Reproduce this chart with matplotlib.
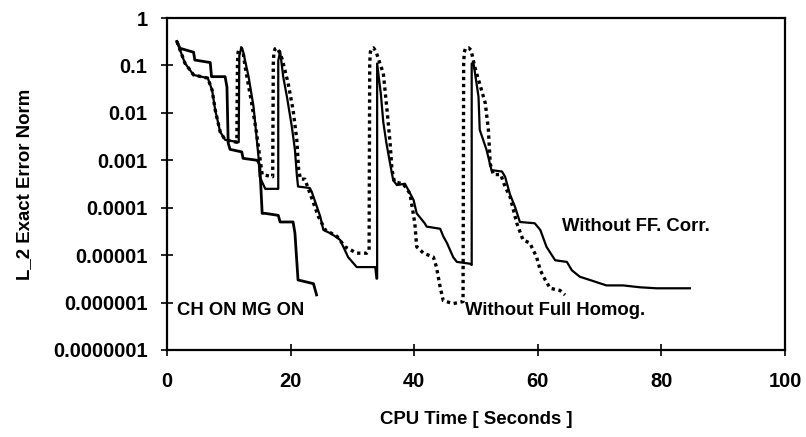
import matplotlib
matplotlib.use("Agg")
import matplotlib.pyplot as plt

plt.rcParams['font.family'] = ['Liberation Sans', 'DejaVu Sans']
plt.rcParams['font.weight'] = 'bold'

# CH ON MG ON (solid)
ch_x = [1.6, 2.1, 4.3, 4.5, 7.0, 7.2, 9.4, 9.7, 9.9, 10.2, 12.1, 12.3, 14.6, 15.0,
        15.2, 15.4, 15.9, 18.0, 18.3, 20.4, 20.7, 21.2, 23.7, 24.2]
ch_y = [0.32, 0.23, 0.19, 0.13, 0.115, 0.058, 0.058, 0.035, 0.0023, 0.0017, 0.0015,
        0.0011, 0.001, 0.0008, 0.00025, 7.6e-5, 7.6e-5, 6.9e-5, 5.0e-5, 5.0e-5,
        2.9e-5, 3.0e-6, 2.5e-6, 1.45e-6]

# Without Full Homog. (dotted)
fh_x = [1.6, 2.9, 4.3, 6.6, 7.3, 7.8, 8.6, 9.4, 11.3,
        11.4, 11.5, 11.7, 12.0, 12.3, 12.6, 13.7, 14.5, 15.0, 15.4, 17.1,
        17.2, 17.3, 17.5, 17.8, 18.1, 18.6, 19.6, 20.4, 21.0, 21.3, 21.6, 22.3, 24.5,
        25.6, 27.5, 28.8, 30.7, 32.3, 32.7,
        32.8, 32.9, 33.1, 33.4, 33.8, 34.3, 35.0, 35.6, 36.1, 36.4, 36.8, 38.2, 39.3,
        40.1, 40.4, 41.5, 43.1, 43.6, 44.2, 44.7, 46.3, 47.9,
        48.0, 48.1, 48.3, 48.8, 49.2, 49.8, 51.5, 52.0, 52.3, 52.8, 54.0, 54.7, 55.5,
        56.6, 57.6, 58.7, 59.8, 60.4, 61.2, 62.0, 63.6, 64.4]
fh_y = [0.32, 0.112, 0.063, 0.054, 0.030, 0.0115, 0.004, 0.0027, 0.0024,
        0.11, 0.19, 0.225, 0.235, 0.2, 0.1, 0.016, 0.0037, 0.0012, 0.0005, 0.00045,
        0.11, 0.19, 0.225, 0.235, 0.2, 0.14, 0.042, 0.0115, 0.0027, 0.00063, 0.0004,
        0.0004, 6.5e-5, 3.4e-5, 2.5e-5, 1.5e-5, 1.1e-5, 1.1e-5, 1.25e-5,
        0.11, 0.19, 0.225, 0.235, 0.2, 0.126, 0.068, 0.0115, 0.0023, 0.00063, 0.00035,
        0.00032, 0.0002, 4.7e-5, 1.5e-5, 1.1e-5, 9.1e-6, 5.6e-6, 2.1e-6, 1.1e-6, 9.5e-7,
        1.05e-6,
        0.11, 0.19, 0.23, 0.235, 0.21, 0.093, 0.016, 0.0044, 0.00085, 0.0005, 0.0005,
        0.00028, 0.00017, 4.7e-5, 2.1e-5, 1.8e-5, 9.1e-6, 4.8e-6, 3.0e-6, 2.0e-6,
        1.8e-6, 1.45e-6]

# Without FF. Corr. (thin solid)
ff_x = [1.6, 2.9, 4.3, 6.6, 7.3, 7.8, 8.6, 9.4, 11.6,
        11.7, 12.0, 12.3, 13.2, 14.0, 14.8, 15.0, 15.9, 18.0,
        18.0, 18.3, 18.8, 19.4, 20.2, 20.7, 21.0, 21.2, 23.1, 23.4, 24.8, 25.3, 26.4,
        27.2, 28.0, 29.3, 30.7, 33.7, 33.9, 34.0,
        34.0, 34.6, 35.0, 35.5, 36.1, 36.6, 37.2, 38.5, 39.9, 40.4, 41.7, 42.0, 44.2,
        44.7, 45.3, 46.3, 46.9, 49.0, 49.3,
        49.3, 49.6, 50.4, 50.6, 51.7, 52.5, 54.2, 54.7, 55.5, 56.3, 57.1, 59.5, 60.4,
        61.4, 62.8, 64.7, 65.5, 66.8, 68.4, 71.1, 73.8, 76.5, 79.2, 81.9, 84.6]
ff_y = [0.32, 0.112, 0.063, 0.054, 0.030, 0.0115, 0.004, 0.0027, 0.0024,
        0.16, 0.23, 0.2, 0.058, 0.0135, 0.0012, 0.00045, 0.00025, 0.00025,
        0.126, 0.2, 0.058, 0.022, 0.0051, 0.00166, 0.0005, 0.00028, 0.00026, 0.00022,
        6.5e-5, 3.4e-5, 2.9e-5, 2.5e-5, 2.1e-5, 9.1e-6, 5.6e-6, 5.6e-6, 3.2e-6, 3.2e-6,
        0.11, 0.025, 0.0063, 0.0023, 0.00085, 0.00038, 0.0003, 0.00032, 0.000145, 7.6e-5,
        4.7e-5, 4.0e-5, 3.6e-5, 2.5e-5, 1.8e-5, 9.1e-6, 7.2e-6, 6.6e-6, 6.2e-6,
        0.11, 0.11, 0.022, 0.0044, 0.00166, 0.00062, 0.00058, 0.00045, 0.00019, 0.000105,
        5.0e-5, 4.7e-5, 3.4e-5, 1.5e-5, 7.8e-6, 7.2e-6, 4.8e-6, 3.5e-6, 3.0e-6, 2.3e-6,
        2.3e-6, 2.1e-6, 2.0e-6, 2.0e-6, 2.0e-6]

y_ticks = [1, 0.1, 0.01, 0.001, 0.0001, 0.00001, 0.000001, 0.0000001]
y_labels = ['1', '0.1', '0.01', '0.001', '0.0001', '0.00001', '0.000001', '0.0000001']
x_ticks = [0, 20, 40, 60, 80, 100]

fig = plt.figure(figsize=(8.06, 4.37), dpi=100)
ax = fig.add_axes([0.2072, 0.1991, 0.7668, 0.7597])

ax.plot(fh_x, fh_y, color='black', lw=2.4, linestyle=(0, (1.0, 1.1)))
ax.plot(ff_x, ff_y, color='black', lw=1.6)
ax.plot(ch_x, ch_y, color='black', lw=2.0)

ax.set_yscale('log')
ax.set_xlim(0, 100)
ax.set_ylim(1e-7, 1)
ax.set_yticks(y_ticks)
ax.set_yticklabels(y_labels)
ax.minorticks_off()
ax.set_xticks(x_ticks)
ax.tick_params(direction='inout', length=8, width=1.2, labelsize=14.5)
ax.tick_params(axis='y', pad=10)
ax.tick_params(axis='x', pad=12)
for s in ax.spines.values():
    s.set_linewidth(1.6)

ax.set_xlabel('CPU Time [ Seconds ]', fontsize=13.4, fontweight='bold', labelpad=14)
ax.set_ylabel('L_2 Exact Error Norm', fontsize=13.4, fontweight='bold', labelpad=14)

ax.text(1.6, 6.8e-7, 'CH ON MG ON', fontsize=13.3, fontweight='bold', va='center')
ax.text(48.2, 6.9e-7, 'Without Full Homog.', fontsize=13.3, fontweight='bold', va='center')
ax.text(63.9, 4.0e-5, 'Without FF. Corr.', fontsize=13.3, fontweight='bold', va='center')

fig.savefig('out.png', dpi=100)
